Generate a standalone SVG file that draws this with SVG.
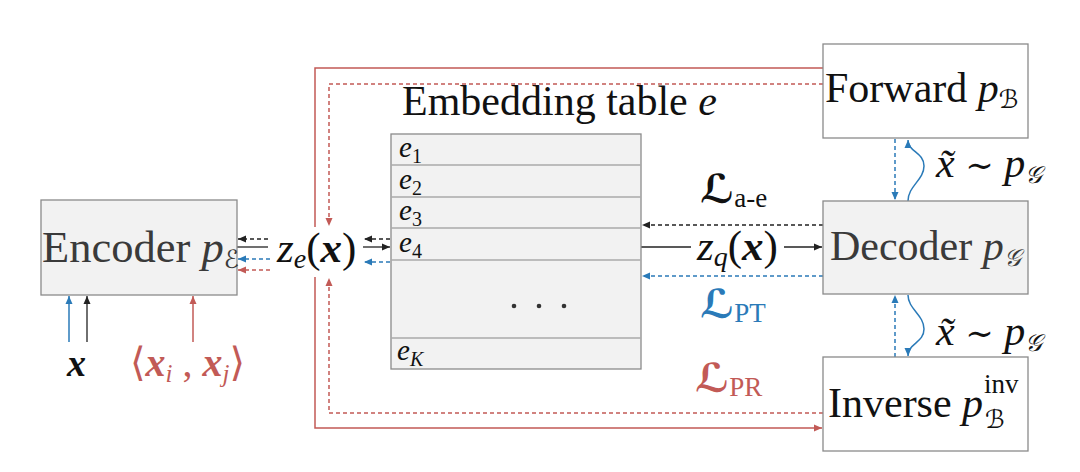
<svg xmlns="http://www.w3.org/2000/svg" width="1080" height="472" viewBox="0 0 1080 472">
<style>
text{font-family:"Liberation Serif","DejaVu Serif",serif;fill:#111}
.big{font-size:42px}
.gray{fill:#3a3a3a}
.it{font-style:italic}
.bd{font-weight:bold;font-style:italic}
.box{stroke:#8a8a8a;stroke-width:1.3}
.k{stroke:#222;stroke-width:1.3;fill:none}
.b{stroke:#2a7ab8;stroke-width:1.5;fill:none}
.r{stroke:#c25a56;stroke-width:1.5;fill:none}
.d{stroke-dasharray:4 3}
.red{fill:#c25a56}
.blue{fill:#2a7ab8}
.scr{font-family:"DejaVu Serif","DejaVu Sans",serif;font-style:italic}
</style>
<defs>
<marker id="ak" markerUnits="userSpaceOnUse" markerWidth="9" markerHeight="8" refX="8" refY="4" orient="auto"><path d="M0,0.5 L8,4 L0,7.5 Z" fill="#222"/></marker>
<marker id="ab" markerUnits="userSpaceOnUse" markerWidth="9" markerHeight="8" refX="8" refY="4" orient="auto"><path d="M0,0.5 L8,4 L0,7.5 Z" fill="#2a7ab8"/></marker>
<marker id="ar" markerUnits="userSpaceOnUse" markerWidth="9" markerHeight="8" refX="8" refY="4" orient="auto"><path d="M0,0.5 L8,4 L0,7.5 Z" fill="#c25a56"/></marker>
</defs>
<rect width="1080" height="472" fill="#fff"/>

<g id="connectors">
<path class="r" d="M823,68 H315 V227"/>
<path class="r" d="M315,277 V428 H822" marker-end="url(#ar)"/>
<path class="r d" d="M823,84 H329 V226" marker-end="url(#ar)"/>
<path class="r d" d="M823,413 H329 V278" marker-end="url(#ar)"/>
<path class="k d" d="M268,239 H238" marker-end="url(#ak)"/>
<path class="k" d="M237,247 H268"/>
<path class="b d" d="M270,259 H238" marker-end="url(#ab)"/>
<path class="r d" d="M270,270 H238" marker-end="url(#ar)"/>
<path class="k d" d="M390,239 H364" marker-end="url(#ak)"/>
<path class="k" d="M363,247 H390" marker-end="url(#ak)"/>
<path class="b d" d="M390,262 H364" marker-end="url(#ab)"/>
<path class="k d" d="M823,225 H642" marker-end="url(#ak)"/>
<path class="k" d="M641,247 H691"/>
<path class="k" d="M784,247 H822" marker-end="url(#ak)"/>
<path class="b d" d="M823,276 H642" marker-end="url(#ab)"/>
<path class="b d" d="M895,139 V200" marker-end="url(#ab)"/>
<path class="b" d="M908,201 C908,186 924,180 924,166 C924,152 908,152 908,140" marker-end="url(#ab)"/>
<path class="b d" d="M895,357 V295" marker-end="url(#ab)"/>
<path class="b" d="M908,295 C908,309 924,315 924,329 C924,343 908,343 908,356" marker-end="url(#ab)"/>
<path class="b" d="M69,342 V296" marker-end="url(#ab)"/>
<path class="k" d="M87,342 V296" marker-end="url(#ak)"/>
<path class="r" d="M193,342 V296" marker-end="url(#ar)"/>
</g>

<g id="encoder">
<rect class="box" x="41" y="200" width="196" height="95" fill="#f2f2f2"/>
<text x="42" y="262" class="gray" font-size="44.5">Encoder <tspan class="it">p</tspan><tspan class="scr" font-size="25" dy="6">ℰ</tspan></text>
</g>

<g id="ze">
<text x="277" y="262" font-size="43"><tspan class="it">z</tspan><tspan class="it" font-size="28" dy="6">e</tspan><tspan dy="-6">(</tspan><tspan class="bd">x</tspan>)</text>
</g>

<g id="table">
<text x="402" y="115" class="big">Embedding table <tspan class="it">e</tspan></text>
<rect class="box" x="391" y="134" width="250" height="235" fill="#f2f2f2" stroke="#aaa"/>
<g stroke="#aaa" stroke-width="1.3">
<line x1="391" y1="165" x2="641" y2="165"/>
<line x1="391" y1="197" x2="641" y2="197"/>
<line x1="391" y1="228" x2="641" y2="228"/>
<line x1="391" y1="260" x2="641" y2="260"/>
<line x1="391" y1="338" x2="641" y2="338"/>
</g>
<text x="399" y="157" font-size="29"><tspan class="it">e</tspan><tspan font-size="20" dy="6">1</tspan></text>
<text x="399" y="189" font-size="29"><tspan class="it">e</tspan><tspan font-size="20" dy="6">2</tspan></text>
<text x="399" y="220" font-size="29"><tspan class="it">e</tspan><tspan font-size="20" dy="6">3</tspan></text>
<text x="399" y="252" font-size="29"><tspan class="it">e</tspan><tspan font-size="20" dy="6">4</tspan></text>
<text x="397" y="360" font-size="29"><tspan class="it">e</tspan><tspan class="it" font-size="20" dy="6">K</tspan></text>
<circle cx="514" cy="306" r="2.3" fill="#333"/>
<circle cx="539" cy="306" r="2.3" fill="#333"/>
<circle cx="564" cy="306" r="2.3" fill="#333"/>
</g>

<g id="zq">
<text x="697" y="260" font-size="43"><tspan class="it">z</tspan><tspan class="it" font-size="28" dy="6">q</tspan><tspan dy="-6">(</tspan><tspan class="bd">x</tspan>)</text>
</g>

<g id="losses">
<text x="700" y="203"><tspan class="scr" font-size="40" font-weight="bold">ℒ</tspan><tspan font-size="27" dy="4">a-e</tspan></text>
<text x="700" y="318" class="blue"><tspan class="scr blue" font-size="40" font-weight="bold">ℒ</tspan><tspan class="blue" font-size="27" dy="4">PT</tspan></text>
<text x="695" y="392" class="red"><tspan class="scr red" font-size="40" font-weight="bold">ℒ</tspan><tspan class="red" font-size="27" dy="4">PR</tspan></text>
</g>

<g id="forward">
<rect class="box" x="823" y="44" width="205" height="94" fill="#fff"/>
<text x="825" y="102" class="big">Forward <tspan class="it">p</tspan><tspan class="scr" font-size="25" dy="6">ℬ</tspan></text>
</g>

<g id="decoder">
<rect class="box" x="823" y="201" width="205" height="93" fill="#f2f2f2"/>
<text x="830" y="260" class="big gray">Decoder <tspan class="it">p</tspan><tspan class="scr" font-size="24" dy="6">𝒢</tspan></text>
</g>

<g id="inverse">
<rect class="box" x="823" y="357" width="205" height="94" fill="#fff"/>
<text x="828" y="417" class="big">Inverse <tspan class="it">p</tspan></text>
<text x="984" y="393" font-size="27">inv</text>
<text x="985" y="428" class="scr" font-size="25">ℬ</text>
</g>

<g id="samples">
<text x="936" y="177" class="big"><tspan class="it">x̃</tspan> <tspan font-size="34">∼</tspan> <tspan class="it">p</tspan><tspan class="scr" font-size="24" dy="6">𝒢</tspan></text>
<text x="936" y="345" class="big"><tspan class="it">x̃</tspan> <tspan font-size="34">∼</tspan> <tspan class="it">p</tspan><tspan class="scr" font-size="24" dy="6">𝒢</tspan></text>
</g>

<g id="inputs">
<text x="67" y="376" class="bd" font-size="38">x</text>
<text x="130" y="376" font-size="40" class="red">⟨<tspan class="bd red">x</tspan><tspan class="it red" font-size="25" dy="6">i</tspan><tspan dy="-6"> , </tspan><tspan class="bd red">x</tspan><tspan class="it red" font-size="25" dy="6">j</tspan><tspan dy="-6">⟩</tspan></text>
</g>
</svg>
